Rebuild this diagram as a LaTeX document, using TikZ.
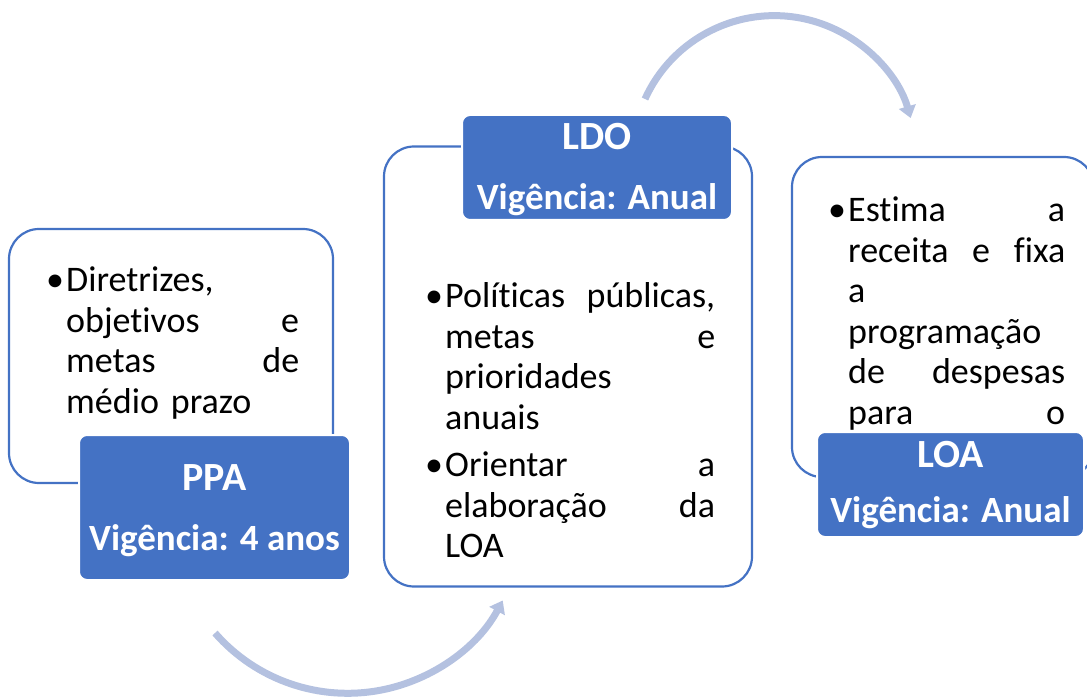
\documentclass[tikz,border=0pt]{standalone}
\usepackage{fontspec}
\setmainfont{Carlito}[Ligatures=NoCommon]
\usetikzlibrary{arrows.meta, positioning}
\definecolor{boxblue}{RGB}{68,114,196}
\definecolor{arcblue}{RGB}{180,193,224}
\newlength{\bulletindent}
\setlength{\bulletindent}{20pt}
\newcommand{\bulletpar}{\noindent\hangindent=\bulletindent\hangafter=1\makebox[\bulletindent][l]{•}}
\newcommand{\lbr}{\unskip\hfil\break}
\tikzstyle{textbox} = [rectangle, rounded corners=30pt, draw=boxblue, line width=2.2pt, fill=white]
\tikzstyle{titlebox} = [rectangle, rounded corners=8pt, draw=white, line width=2pt, fill=boxblue, inner sep=0pt]
\tikzstyle{bodytext} = [anchor=base west, inner sep=0pt, font=\fontsize{36}{40.5}\selectfont]
\tikzstyle{titletext} = [anchor=base, inner sep=0pt, text=white, font=\fontsize{40}{48}\selectfont\bfseries]
\tikzstyle{subtext} = [anchor=base, inner sep=0pt, text=white, font=\fontsize{37}{44}\selectfont\bfseries]
\tikzstyle{cyclearrow} = [arcblue, line width=7pt, -{Triangle[length=12pt,width=17pt]}]

\begin{document}
\begin{tikzpicture}[x=1pt, y=-1pt]
    \useasboundingbox (0,0) rectangle (1087,700);
    % white boxes
    \node (ppabox) [textbox, minimum width=324, minimum height=254] at (171,356) {};
    \node (ldobox) [textbox, minimum width=368, minimum height=440] at (568,366.5) {};
    \node (loabox) [textbox, minimum width=302, minimum height=320] at (943,317) {};
    % bullet texts
    \node (ppatext) [bodytext, text width=253] at (46,292) {\bulletpar Diretrizes,\lbr
        objetivos\hfill e\lbr
        metas\hfill de\lbr
        médio prazo\par};
    \node (ldotext) [bodytext, text width=290] at (425,308) {\bulletpar Políticas\hfill públicas,\lbr
        metas\hfill e\lbr
        prioridades\lbr
        anuais\par
        \vskip 7pt
        \bulletpar Orientar\hfill a\lbr
        elaboração\hfill da\lbr
        LOA\par};
    \node (loatext) [bodytext, text width=237] at (828,222) {\bulletpar Estima\hfill a\lbr
        receita\hfill e\hfill fixa\lbr
        a\lbr
        programação\lbr
        de\hfill despesas\lbr
        para\hfill o\par};
    % title boxes
    \node (ppatitle) [titlebox, minimum width=271, minimum height=145] at (214.5,507.5) {};
    \node (ldotitle) [titlebox, minimum width=270, minimum height=105] at (597,167.5) {};
    \node (loatitle) [titlebox, minimum width=267, minimum height=105] at (950.5,484.5) {};
    \node (ppaname) [titletext] at ([yshift=17.5pt]ppatitle.center) {PPA};
    \node (ppatime) [subtext] at ([yshift=-42.5pt]ppatitle.center) {Vigência: 4 anos};
    \node (ldoname) [titletext] at ([yshift=17.5pt]ldotitle.center) {LDO};
    \node (ldotime) [subtext] at ([yshift=-42.5pt]ldotitle.center) {Vigência: Anual};
    \node (loaname) [titletext] at ([yshift=17.5pt]loatitle.center) {LOA};
    \node (loatime) [subtext] at ([yshift=-37.5pt]loatitle.center) {Vigência: Anual};
    % cycle arrows
    \coordinate (ppaarc) at (215,633);
    \coordinate (ldoarc) at (645,99);
    \draw [cyclearrow] (ppaarc) arc[start angle=138.9, end angle=28.2, radius=176];
    \draw [cyclearrow] (ldoarc) arc[start angle=-155.6, end angle=-16.2, radius=142];
\end{tikzpicture}
\end{document}
